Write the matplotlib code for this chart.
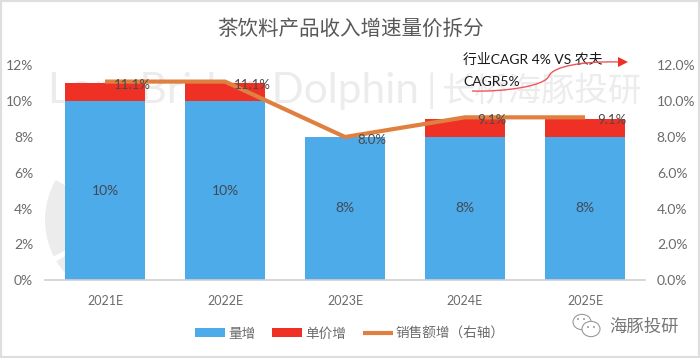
import matplotlib
matplotlib.use("Agg")
import matplotlib.pyplot as plt
from matplotlib.patches import Circle, Ellipse, PathPatch, Polygon, Rectangle, Wedge
from matplotlib.path import Path as MPath
from matplotlib.ticker import FuncFormatter
from matplotlib.transforms import IdentityTransform

plt.rcParams["font.family"] = ["Lato", "Noto Sans CJK SC", "DejaVu Sans"]

years = ["2021E", "2022E", "2023E", "2024E", "2025E"]
volume = [10, 10, 8, 8, 8]
price = [1, 1, 0, 1, 1]
sales = [11.1, 11.1, 8.0, 9.1, 9.1]
left_ticks = [0, 2, 4, 6, 8, 10, 12]

W, H = 700, 358
GREY = "#6b6b6b"
MARK = "#ececec"


def fx(px):
    return px / W


def fy(py):
    return 1 - py / H


fig = plt.figure(figsize=(W / 100, H / 100), dpi=100)
fig.patches.append(Rectangle((0, 0), 1, 1, transform=fig.transFigure, fill=False,
                             ec="#dedede", lw=3))

ax = fig.add_axes([fx(45), fy(280), 600 / W, (280 - 65.5) / H])
ax.set_zorder(1)
ax.patch.set_alpha(0)
ax2 = ax.twinx()
ax2.set_zorder(2)

x = range(len(years))
ax.bar(x, volume, width=0.667, color="#4dabe9", label="量增", zorder=2)
ax.bar(x, price, width=0.667, bottom=volume, color="#ee3124", label="单价增", zorder=2)
line, = ax2.plot(x, sales, color="#e08040", lw=3.0, solid_capstyle="butt",
                 solid_joinstyle="miter", label="销售额增（右轴）")

ax.set_xlim(-0.5, 4.5)
ax.set_ylim(0, 12)
ax2.set_ylim(0, 12)
ax.set_yticks(left_ticks)
ax2.set_yticks(left_ticks)
ax.yaxis.set_major_formatter(FuncFormatter(lambda v, _: f"{v:.0f}%"))
ax2.yaxis.set_major_formatter(FuncFormatter(lambda v, _: f"{v:.1f}%"))
ax.set_xticks(list(x))
ax.set_xticklabels(years)
for a in (ax, ax2):
    for s in a.spines.values():
        s.set_visible(False)
    a.tick_params(length=0, labelcolor=GREY)
ax.tick_params(axis="x", pad=11, labelsize=9)
ax.tick_params(axis="y", pad=8.5, labelsize=10)
ax2.tick_params(axis="y", pad=8.5, labelsize=10)
ax.spines["bottom"].set_visible(True)
ax.spines["bottom"].set_color("#d0d0d0")
ax.spines["bottom"].set_linewidth(1.2)

for i, v in enumerate(volume):
    ax.text(i, v / 2, f"{v}%", ha="center", va="center", fontsize=10,
            color="#404a55", zorder=3)
for i, v in enumerate(sales):
    # labels sit right of the point, on top of the line
    ax2.annotate(f"{v:.1f}%", (i, v), xytext=(27, -3), textcoords="offset pixels",
                 ha="center", va="center", fontsize=9.5, color="#4a4a4a", zorder=5)

# watermark behind the bars
fig.text(fx(48), fy(91), "LongBridge Dolphin", fontsize=30.5, color=MARK, ha="left",
         va="center", zorder=0)
fig.text(fx(431), fy(91), "|", fontsize=27, color=MARK, ha="center", va="center", zorder=0)
fig.text(fx(641), fy(91), "长桥海豚投研", fontsize=24, color=MARK, ha="right",
         va="center", zorder=0)
fig.patches.append(Wedge((125, H - 220), 80, 150, 207, width=40, fc=MARK, ec="none",
                         zorder=0, transform=IdentityTransform()))
fig.patches.append(Wedge((125, H - 220), 80, 211, 225, width=40, fc=MARK, ec="none",
                         zorder=0, transform=IdentityTransform()))

fig.text(0.5, fy(29), "茶饮料产品收入增速量价拆分", fontsize=14.8, color="#595959",
         ha="center", va="center")

# hand-drawn note and arrow
fig.text(fx(463), fy(59), "行业CAGR 4% VS 农夫", fontsize=10, color="#1a1a1a", ha="left", va="center")
fig.text(fx(463), fy(82), "CAGR5%", fontsize=10, color="#1a1a1a", ha="left", va="center")
verts = [(472, 91), (505, 92), (545, 86), (549, 76), (553, 66), (585, 61), (618, 62)]
pts = [(fx(a), fy(b)) for a, b in verts]
codes = [MPath.MOVETO] + [MPath.CURVE4] * 6
fig.patches.append(PathPatch(MPath(pts, codes), transform=fig.transFigure, fc="none",
                             ec="#f0555a", lw=1, zorder=6))
fig.patches.append(Polygon([(fx(618), fy(57)), (fx(628), fy(62)), (fx(618), fy(67))],
                           transform=fig.transFigure, fc="#ee3124", ec="none", zorder=6))

# legend
handles = ax.get_legend_handles_labels()[0] + [line]
labels = ["量增", "单价增", "销售额增（右轴）"]
fig.legend(handles, labels, ncol=3, loc="center", bbox_to_anchor=(fx(350), fy(333)),
           frameon=False, fontsize=9.8, labelcolor=GREY, handlelength=2.2,
           handleheight=0.6, columnspacing=1.2, handletextpad=0.25)

# wechat mark
fig.text(fx(644), fy(327), "海豚投研", fontsize=12.5, color="#777777", ha="center", va="center")
for cx, cy, rx in [(582, 322, 9), (591, 329, 9)]:
    fig.patches.append(Ellipse((fx(cx), fy(cy)), 2 * rx / W, 1.7 * rx / H,
                               transform=fig.transFigure, fc="white", ec="#999999", lw=0.8))
for cx, cy in [(578, 319), (584, 319), (588, 327), (594, 327)]:
    fig.patches.append(Circle((cx, H - cy), 1, fc="#999999", ec="none",
                              transform=IdentityTransform()))

fig.savefig("out.png", dpi=100)
